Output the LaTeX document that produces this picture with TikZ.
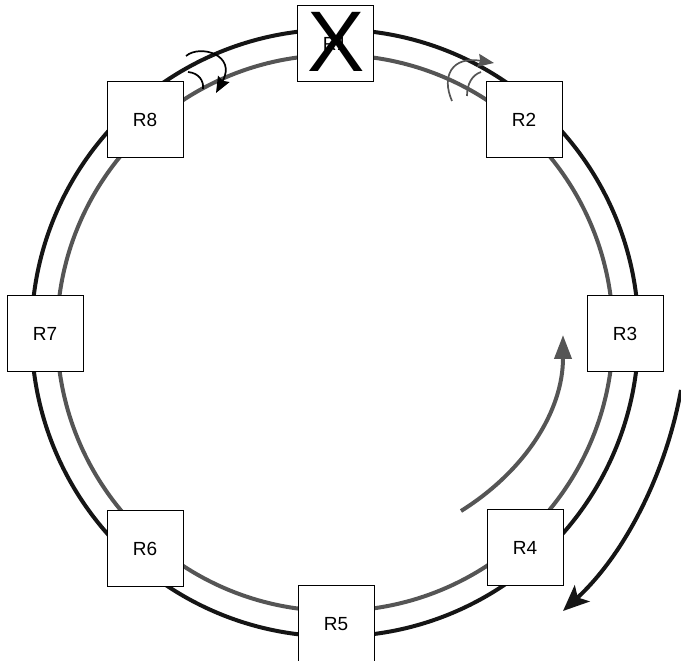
\documentclass[tikz,border=0pt]{standalone}
\usepackage{fontspec}
\setmainfont{Liberation Sans}
\usetikzlibrary{arrows.meta}
\definecolor{ringgray}{HTML}{555555}
\definecolor{ringblack}{HTML}{151515}
\begin{document}
\begin{tikzpicture}[x=1pt,y=1pt,
  router/.style={draw=black, line width=1pt, fill=white, minimum width=76pt, minimum height=76pt, inner sep=0pt, font=\fontsize{19}{22}\selectfont},
  outerring/.style={draw=ringblack, line width=4pt},
  innerring/.style={draw=ringgray, line width=4pt},
  looparrow/.style={line width=1.7pt, -{Stealth[length=16pt,width=13pt,inset=2pt]}},
  loopback/.style={line width=1.7pt},
  bigarrow/.style={line width=4pt}]
\useasboundingbox (0,0) rectangle (681,661);
\coordinate (c) at (335,328);
\draw[outerring] (c) circle[radius=303.5];
\draw[innerring] (c) circle[radius=278];

\node[router] (r1) at (335,617.5) {R1};
\node[router] (r2) at (524,541) {R2};
\node[router] (r3) at (625,327) {R3};
\node[router] (r4) at (525,113) {R4};
\node[router] (r5) at (336,37) {R5};
\node[router] (r6) at (145,112.5) {R6};
\node[router] (r7) at (45,327) {R7};
\node[router] (r8) at (145,541) {R8};
\node[anchor=base, inner sep=0pt, font=\fontsize{86}{90}\selectfont] (x) at (336,589) {X};

% loopback at R8
\coordinate (a8s) at (186,605);
\coordinate (a8e) at (216,568);
\draw[looparrow, black] (a8s) .. controls (200,617) and (237,606) .. (a8e);
\coordinate (b8s) at (188,589);
\coordinate (b8e) at (203,572);
\draw[loopback, black] (b8s) .. controls (199,588) and (204,580) .. (b8e);

% loopback at R2
\coordinate (a2s) at (452,560);
\coordinate (a2e) at (494,598);
\draw[looparrow, ringgray] (a2s) .. controls (441,585) and (452,605) .. (a2e);
\coordinate (b2s) at (467,565);
\coordinate (b2e) at (481,589);
\draw[loopback, ringgray] (b2s) .. controls (467,577) and (472,586) .. (b2e);

% big arrows
\coordinate (gs) at (461,150);
\coordinate (ge) at (563,326);
\draw[bigarrow, ringgray, -{Triangle[length=24pt,width=17pt]}] (gs) .. controls (525,190) and (563,250) .. (ge);
\coordinate (ks) at (681,271);
\coordinate (ke) at (563,50);
\draw[bigarrow, ringblack, -{Stealth[length=26pt,width=22pt,inset=6pt]}] (ks) .. controls (666,188) and (625,107) .. (ke);
\end{tikzpicture}
\end{document}
